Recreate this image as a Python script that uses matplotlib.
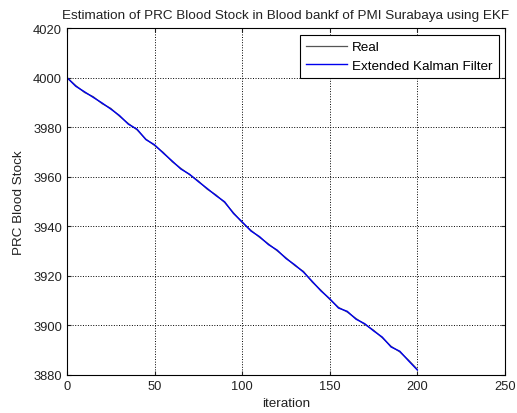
import matplotlib
matplotlib.use('Agg')
import matplotlib.pyplot as plt

plt.rcParams['font.family'] = ['Liberation Sans', 'DejaVu Sans']

# data (every 5 iterations)
iteration = list(range(0, 201, 5))
real = [4000.0, 3996.8, 3994.0, 3992.3, 3989.5, 3987.6, 3984.4, 3981.5, 3978.9, 3975.2,
        3972.6, 3969.8, 3966.1, 3963.4, 3960.8, 3958.3, 3955.0, 3952.7, 3949.6, 3945.5,
        3941.5, 3938.4, 3935.5, 3932.9, 3930.1, 3927.3, 3924.2, 3921.8, 3917.5, 3914.2,
        3910.5, 3907.3, 3905.4, 3902.8, 3900.4, 3898.1, 3895.0, 3891.6, 3889.3, 3886.0,
        3882.3]
ekf = [4000.0, 3996.5, 3994.3, 3992.0, 3989.8, 3987.3, 3984.7, 3981.2, 3979.2, 3975.0,
       3972.9, 3969.5, 3966.4, 3963.1, 3961.0, 3958.0, 3955.3, 3952.4, 3949.9, 3945.2,
       3941.8, 3938.1, 3935.8, 3932.6, 3930.4, 3927.0, 3924.5, 3921.5, 3917.8, 3913.9,
       3910.8, 3907.0, 3905.7, 3902.5, 3900.7, 3897.8, 3895.3, 3891.3, 3889.6, 3885.7,
       3882.0]

xticks = [0, 50, 100, 150, 200, 250]
yticks = [3880, 3900, 3920, 3940, 3960, 3980, 4000, 4020]

fig = plt.figure(figsize=(5.17, 4.14), dpi=100)
ax = fig.add_axes([0.1296, 0.0918, 0.847, 0.838])

ax.plot(iteration, real, color='#555555', linewidth=0.9, label='Real')
ax.plot(iteration, ekf, color='#0000ee', linewidth=1.0, label='Extended Kalman Filter')

ax.set_xlim(0, 250)
ax.set_ylim(3880, 4020)
ax.set_xticks(xticks)
ax.set_yticks(yticks)
ax.grid(True, linestyle=':', color='black', linewidth=0.7)
ax.tick_params(direction='in', top=True, right=True, labelsize=9.3, length=3, colors='#222222')
for s in ax.spines.values():
    s.set_linewidth(0.8)

ax.set_title('Estimation of PRC Blood Stock in Blood bankf of PMI Surabaya using EKF',
             fontsize=9.7, color='#222222', pad=7)
ax.set_xlabel('iteration', fontsize=9.7, color='#222222', labelpad=4)
ax.set_ylabel('PRC Blood Stock', fontsize=9.7, color='#222222', labelpad=6)

leg = ax.legend(loc='upper right', bbox_to_anchor=(0.986, 0.98), fontsize=9.7,
                fancybox=False, framealpha=1, edgecolor='black', borderaxespad=0,
                handlelength=3.0, handletextpad=0.4, labelspacing=0.45, borderpad=0.45)
leg.get_frame().set_linewidth(0.8)

fig.savefig('out.png', dpi=100)
